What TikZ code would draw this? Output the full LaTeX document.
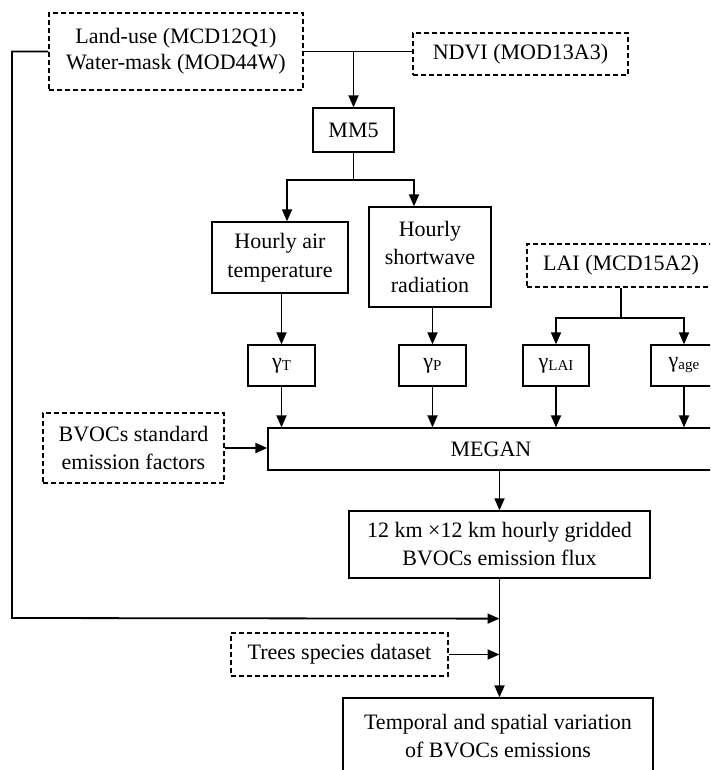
\documentclass[tikz,border=0pt]{standalone}
\usepackage{fontspec}
\setmainfont{Liberation Serif}
\usetikzlibrary{arrows.meta,calc}
\newcommand{\gsub}[1]{\raisebox{-2pt}{\fontsize{15}{15}\selectfont #1}}
\begin{document}
\begin{tikzpicture}[x=1pt,y=-1pt,
  box/.style={draw, line width=1.3pt, inner sep=0pt, align=center, font=\fontsize{22}{28}\selectfont},
  dbox/.style={box, line width=1.2pt, dash pattern=on 5pt off 3pt},
  sz/.style 2 args={minimum width=#1, minimum height=#2},
  arr/.style={line width=1.8pt, -{Triangle[length=12pt,width=10pt]}},
  ln/.style={line width=1.8pt}]
\clip (0,0) rectangle (710,770);
\fill[white] (0,0) rectangle (710,770);

% nodes
\node[dbox, sz={254pt}{77pt}, font=\fontsize{22}{26}\selectfont] (land) at (176,51.5) {Land-use (MCD12Q1)\\Water-mask (MOD44W)};
\node[dbox, sz={215pt}{42pt}] (ndvi) at (520.5,54) {NDVI (MOD13A3)};
\node[box, sz={81pt}{44pt}] (mm5) at (353.5,130) {MM5};
\node[box, sz={136pt}{71pt}, font=\fontsize{22}{29}\selectfont] (temp) at (280,257.5) {Hourly air\\temperature};
\node[box, sz={122pt}{100pt}] (short) at (430,257) {Hourly\\shortwave\\radiation};
\node[dbox, sz={188pt}{43pt}] (lai) at (621,265.5) {LAI (MCD15A2)};
\node[box, sz={67pt}{41pt}] (gT) at (281.5,365.5) {γ\gsub{T}};
\node[box, sz={67pt}{41pt}] (gP) at (432.5,365.5) {γ\gsub{P}};
\node[box, sz={66pt}{41pt}] (gLAI) at (556,365.5) {γ\gsub{LAI}};
\node[box, sz={66pt}{41pt}] (gage) at (684,365.5) {γ\gsub{age}};
\node[box, sz={446pt}{42pt}] (megan) at (491,449) {MEGAN};
\node[dbox, sz={181pt}{70pt}] (bvocs) at (133.5,448) {BVOCs standard\\emission factors};
\node[box, sz={301pt}{67pt}] (km) at (499.5,544.5) {12 km ×12 km hourly gridded\\BVOCs emission flux};
\node[dbox, sz={217pt}{43pt}] (trees) at (339.5,654.5) {Trees species dataset};
\node[box, sz={310pt}{76pt}] (tv) at (498,736) {Temporal and spatial variation\\of BVOCs emissions};

% coordinates
\coordinate (b1) at ($(mm5.south)+(0,27)$);
\coordinate (b2) at ($(lai.south)+(0,30)$);
\coordinate (jA) at ($(km.south)+(0,40)$);
\coordinate (cornerL) at (12,618);

% connectors
\draw[ln] (land.east) -- (ndvi.west |- land.east);
\draw[arr] (mm5.north |- land.east) -- (mm5.north);
\draw[arr] (land.west) -| (cornerL) -- (jA);
\draw[ln] (mm5.south) -- (b1);
\draw[arr] (b1) -| ($(temp.north)+(7,0)$);
\draw[arr] (b1) -| ($(short.north)+(-16,0)$);
\draw[arr] (temp.south -| gT.north) -- (gT.north);
\draw[arr] (short.south -| gP.north) -- (gP.north);
\draw[ln] (lai.south) -- (b2);
\draw[arr] (b2) -| (gLAI.north);
\draw[arr] (b2) -| (gage.north);
\draw[arr] (gT.south) -- (gT.south |- megan.north);
\draw[arr] (gP.south) -- (gP.south |- megan.north);
\draw[arr] (gLAI.south) -- (gLAI.south |- megan.north);
\draw[arr] (gage.south) -- (gage.south |- megan.north);
\draw[arr] (bvocs.east) -- (bvocs.east -| megan.west);
\draw[arr] (megan.south -| km.north) -- (km.north);
\draw[arr] (km.south) -- (km.south |- tv.north);
\draw[arr] (trees.east) -- (trees.east -| km.south);
\end{tikzpicture}
\end{document}
